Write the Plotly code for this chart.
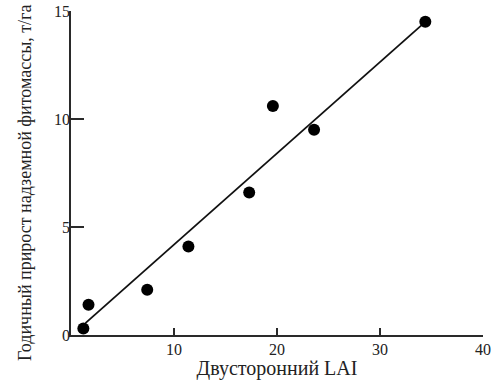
import plotly.graph_objects as go

# Two-sided leaf area index vs annual above-ground phytomass increment
lai = [1.2, 1.7, 7.4, 11.4, 17.3, 19.6, 23.6, 34.4]
growth = [0.3, 1.4, 2.1, 4.1, 6.6, 10.6, 9.5, 14.5]

# Regression line end points
fit_x = [1.4, 34.4]
fit_y = [0.55, 14.5]

x_labels = [10, 20, 30, 40]
x_marks = [10, 20, 30]
y_labels = [0, 5, 10, 15]
y_marks = [5, 10]

FONT = "Liberation Serif, Times New Roman, serif"
AXIS = "#2a2a2a"

fig = go.Figure()
fig.add_trace(go.Scatter(
    x=fit_x, y=fit_y, mode="lines",
    line=dict(color="#111111", width=1.8),
    hoverinfo="skip", showlegend=False,
))
fig.add_trace(go.Scatter(
    x=lai, y=growth, mode="markers",
    marker=dict(color="#000000", size=12, line=dict(width=0)),
    xaxis="x2", yaxis="y2", showlegend=False,
))

fig.update_layout(
    width=494, height=380,
    margin=dict(l=71, r=11, t=11, b=45),
    paper_bgcolor="white", plot_bgcolor="white",
    font=dict(family=FONT, size=16, color="#222222"),
    # main axes: lines and inner tick marks
    xaxis=dict(
        range=[0, 40], tickmode="array", tickvals=x_marks, ticks="inside",
        ticklen=7, tickwidth=2, tickcolor=AXIS, showticklabels=False,
        showgrid=False, zeroline=False, automargin=False,
        showline=True, linecolor=AXIS, linewidth=2,
    ),
    yaxis=dict(
        range=[0, 15], tickmode="array", tickvals=y_marks, ticks="inside",
        ticklen=13, tickwidth=2, tickcolor=AXIS, showticklabels=False,
        showgrid=False, zeroline=False, automargin=False,
        showline=True, linecolor=AXIS, linewidth=2,
    ),
    # overlay axes: numeric labels and titles
    xaxis2=dict(
        range=[0, 40], overlaying="x", anchor="y", side="bottom",
        tickvals=x_labels, ticktext=[str(v) for v in x_labels],
        ticks="", showgrid=False, zeroline=False, showline=False,
        automargin=False, ticklabelstandoff=3,
        title=dict(text="Двусторонний LAI", font=dict(size=20), standoff=1),
    ),
    yaxis2=dict(
        range=[0, 15], overlaying="y", anchor="x", side="left",
        tickvals=y_labels, ticktext=[str(v) for v in y_labels],
        ticks="", showgrid=False, zeroline=False, showline=False,
        automargin=False, ticklabelstandoff=0,
    ),
    annotations=[dict(
        text="Годичный прирост надземной фитомассы, т/га",
        xref="paper", yref="paper", x=0, y=0.5,
        xshift=-46, yshift=-10, textangle=-90, showarrow=False,
        xanchor="center", yanchor="middle",
        font=dict(family=FONT, size=18, color="#222222"),
    )],
)

fig.write_html("out.html")
